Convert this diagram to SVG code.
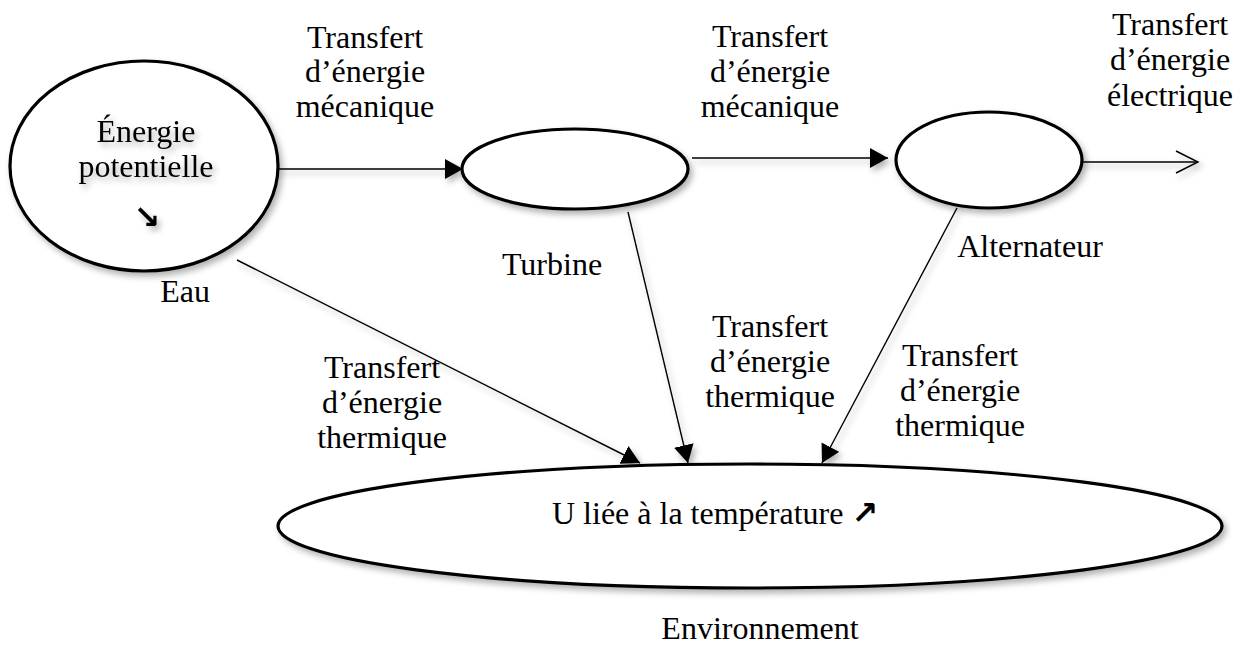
<svg xmlns="http://www.w3.org/2000/svg" width="1244" height="646" viewBox="0 0 1244 646">
<defs>
<filter id="sh" x="-10%" y="-10%" width="130%" height="140%">
<feDropShadow dx="3" dy="4" stdDeviation="3" flood-color="#000" flood-opacity="0.3"/>
</filter>
<marker id="ah" markerUnits="userSpaceOnUse" markerWidth="20" markerHeight="22" refX="18" refY="10" orient="auto">
<path d="M0,0 L18,10 L0,20 z" fill="#000"/>
</marker>
<marker id="oh" markerUnits="userSpaceOnUse" markerWidth="26" markerHeight="26" refX="23" refY="12" orient="auto">
<path d="M1,1 L23,12 L1,23" fill="none" stroke="#000" stroke-width="1.4"/>
</marker>
</defs>
<style>
text{font-family:"Liberation Serif","Times New Roman",serif;font-size:32px;fill:#000}
.c{text-anchor:middle}
.node{fill:#fff;stroke:#000;stroke-width:3.2}
.ln{stroke:#000;stroke-width:1.4;fill:none}
.sym{font-family:"DejaVu Sans",sans-serif;font-weight:bold}
</style>
<rect width="1244" height="646" fill="#fff"/>
<g id="connectors" filter="url(#sh)">
<line class="ln" x1="272" y1="169" x2="463" y2="169" marker-end="url(#ah)"/>
<line class="ln" x1="692" y1="158" x2="888" y2="158" marker-end="url(#ah)"/>
<line class="ln" x1="1077" y1="162" x2="1198" y2="162" marker-end="url(#oh)"/>
<line class="ln" x1="237" y1="260" x2="640" y2="463" marker-end="url(#ah)"/>
<line class="ln" x1="628" y1="212" x2="688" y2="463" marker-end="url(#ah)"/>
<line class="ln" x1="957" y1="208" x2="822" y2="463" marker-end="url(#ah)"/>
</g>
<g id="node-eau">
<ellipse class="node" cx="144" cy="166" rx="134" ry="105" filter="url(#sh)"/>
<g filter="url(#sh)">
<text class="c" x="146" y="142">Énergie</text>
<text class="c" x="146" y="177">potentielle</text>
<text class="c sym" x="147" y="228" font-size="34">↘</text>
</g>
<text class="c" x="185" y="302">Eau</text>
</g>
<g id="node-turbine">
<ellipse class="node" cx="575" cy="169" rx="113" ry="40" filter="url(#sh)"/>
<text class="c" x="552" y="275">Turbine</text>
</g>
<g id="node-alternateur">
<ellipse class="node" cx="989" cy="160" rx="93" ry="48" filter="url(#sh)"/>
<text class="c" x="1030" y="257">Alternateur</text>
</g>
<g id="node-environnement">
<ellipse class="node" cx="750" cy="526" rx="472" ry="62" filter="url(#sh)"/>
<text x="552" y="524">U liée à la température <tspan class="sym" font-size="32">↗</tspan></text>
<text class="c" x="760" y="639">Environnement</text>
</g>
<g id="labels">
<text class="c" x="365" y="48">Transfert</text>
<text class="c" x="365" y="82">d’énergie</text>
<text class="c" x="365" y="117">mécanique</text>
<text class="c" x="770" y="47">Transfert</text>
<text class="c" x="770" y="82">d’énergie</text>
<text class="c" x="770" y="117">mécanique</text>
<text class="c" x="1170" y="35">Transfert</text>
<text class="c" x="1170" y="70">d’énergie</text>
<text class="c" x="1170" y="106">électrique</text>
<text class="c" x="382" y="378">Transfert</text>
<text class="c" x="382" y="413">d’énergie</text>
<text class="c" x="382" y="448">thermique</text>
<text class="c" x="770" y="337">Transfert</text>
<text class="c" x="770" y="372">d’énergie</text>
<text class="c" x="770" y="407">thermique</text>
<text class="c" x="960" y="366">Transfert</text>
<text class="c" x="960" y="401">d’énergie</text>
<text class="c" x="960" y="436">thermique</text>
</g>
</svg>
